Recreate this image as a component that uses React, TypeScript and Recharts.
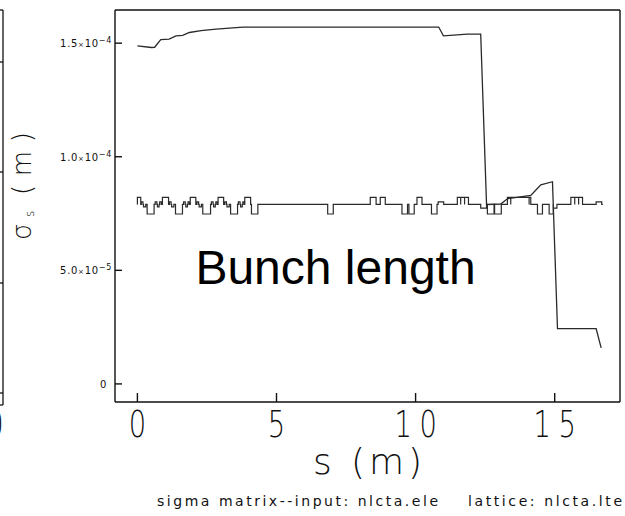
import React from "react";
import { LineChart, Line, XAxis, YAxis } from "recharts";

// sigma_s along the beamline (m)
const sigmaS = [0, 0.5, 0.62, 0.84, 1.14, 1.39, 1.63, 1.87, 2.29, 2.83, 3.31, 3.79, 10.83, 11.0, 11.86, 12.34, 12.55, 13.06, 13.3, 14.14, 14.3, 14.5, 14.92, 15.1, 16.49, 16.67];
const sigmaValue = [1.488e-4, 1.481e-4, 1.482e-4, 1.516e-4, 1.518e-4, 1.532e-4, 1.534e-4, 1.547e-4, 1.555e-4, 1.562e-4, 1.566e-4, 1.571e-4, 1.571e-4, 1.532e-4, 1.54e-4, 1.54e-4, 0.79e-4, 0.792e-4, 0.815e-4, 0.83e-4, 0.85e-4, 0.876e-4, 0.89e-4, 0.243e-4, 0.243e-4, 0.159e-4];

// lattice profile drawn on the plot: element start/end and outline level
const latticeBase = 7.9e-5;
const latticeFirst = 0;
const latticeLast = 16.73;
const latticeStart = [0.0, 0.14, 0.22, 0.35, 0.64, 0.72, 0.8, 0.9, 1.15, 1.23, 1.37, 1.66, 1.74, 1.82, 1.9, 2.14, 2.22, 2.35, 2.66, 2.74, 2.82, 2.9, 3.14, 3.22, 3.35, 3.63, 3.71, 3.79, 3.86, 4.1, 6.84, 8.37, 8.73, 9.51, 9.76, 10.05, 10.57, 10.81, 11.5, 11.62, 11.76, 12.34, 12.58, 12.84, 13.3, 13.42, 14.08, 14.38, 14.8, 14.95, 15.58, 15.72, 15.86, 16.49];
const latticeEnd = [0.12, 0.2, 0.3, 0.6, 0.7, 0.78, 0.86, 1.12, 1.21, 1.31, 1.62, 1.72, 1.8, 1.87, 2.1, 2.2, 2.3, 2.63, 2.72, 2.8, 2.87, 3.1, 3.2, 3.3, 3.6, 3.69, 3.77, 3.84, 4.07, 4.33, 7.04, 8.58, 8.91, 9.71, 9.95, 10.23, 10.77, 11.01, 11.62, 11.76, 11.9, 12.55, 12.82, 13.08, 13.42, 14.08, 14.14, 14.56, 14.95, 15.08, 15.72, 15.86, 16.0, 16.69];
const latticeLevel = [8.21e-5, 8.01e-5, 7.79e-5, 7.48e-5, 8.01e-5, 7.79e-5, 8.01e-5, 8.21e-5, 8.01e-5, 7.79e-5, 7.48e-5, 8.01e-5, 7.79e-5, 8.01e-5, 8.21e-5, 8.01e-5, 7.79e-5, 7.48e-5, 8.01e-5, 7.79e-5, 8.01e-5, 8.21e-5, 8.01e-5, 7.79e-5, 7.48e-5, 8.01e-5, 7.79e-5, 8.01e-5, 8.21e-5, 7.48e-5, 7.48e-5, 8.21e-5, 8.21e-5, 7.48e-5, 7.48e-5, 8.21e-5, 7.48e-5, 8.01e-5, 8.21e-5, 8.21e-5, 8.21e-5, 7.74e-5, 7.48e-5, 7.48e-5, 8.21e-5, 8.21e-5, 8.21e-5, 7.48e-5, 7.48e-5, 7.74e-5, 8.21e-5, 8.21e-5, 8.21e-5, 8.01e-5];

const xTicks = [0, 5, 10, 15];
const yTicks = [0, 5e-5, 1e-4, 1.5e-4];
const yTickMantissa = ["0", "5.0", "1.0", "1.5"];
const yTickExp = ["", "-5", "-4", "-4"];

const xDomain = [-0.805, 17.347];
const yDomain = [-7.96e-6, 1.646e-4];

const sigmaData = sigmaS.map((s, i) => ({ s, v: sigmaValue[i] }));

const latticeData = (() => {
  const pts = [{ s: latticeFirst, v: latticeBase }];
  latticeStart.forEach((s0, i) => {
    pts.push({ s: s0, v: latticeBase });
    pts.push({ s: s0, v: latticeLevel[i] });
    pts.push({ s: latticeEnd[i], v: latticeLevel[i] });
    pts.push({ s: latticeEnd[i], v: latticeBase });
  });
  pts.push({ s: latticeLast, v: latticeBase });
  return pts;
})();

const INK = "#111";
const LINE = "#2a2a2a";
const THIN = "DejaVu Sans";

const XTick = (props: any) => {
  const { x, payload } = props;
  const digits = String(payload.value).split("");
  const offsets = digits.length === 1 ? [0] : [-12.5, 12.5];
  return (
    <g>
      {digits.map((d, i) => (
        <text
          key={i}
          transform={`translate(${x + offsets[i]},437) scale(0.72,1)`}
          textAnchor="middle"
          fontFamily={THIN}
          fontWeight={200}
          fontSize={38}
          fill={INK}
        >
          {d}
        </text>
      ))}
    </g>
  );
};

const YTick = (props: any) => {
  const { y, index } = props;
  const exp = yTickExp[index];
  return (
    <text
      x={exp ? 112 : 107}
      y={y + 4}
      textAnchor="end"
      fontFamily={THIN}
      fontSize={10}
      letterSpacing={0.7}
      fill={INK}
    >
      {yTickMantissa[index]}
      {exp && <tspan fontSize={7}>×</tspan>}
      {exp && "10"}
      {exp && (
        <tspan dy={-4} fontSize={8}>
          {exp.replace("-", "\u2212")}
        </tspan>
      )}
    </text>
  );
};

export default function App() {
  return (
    <div
      style={{
        position: "absolute",
        left: 0,
        top: 0,
        width: 625,
        height: 516,
        background: "#fff",
      }}
    >
      <LineChart
        width={625}
        height={516}
        margin={{ top: 10, right: 5, bottom: 114, left: 115 }}
      >
        <XAxis
          xAxisId={0}
          type="number"
          dataKey="s"
          domain={xDomain}
          ticks={xTicks}
          allowDataOverflow
          height={1}
          mirror
          tickSize={9}
          stroke={INK}
          strokeWidth={1.4}
          tick={<XTick />}
        />
        <XAxis
          xAxisId="top"
          orientation="top"
          type="number"
          dataKey="s"
          domain={xDomain}
          ticks={xTicks}
          allowDataOverflow
          height={1}
          mirror
          tickSize={8}
          stroke={INK}
          strokeWidth={1.4}
          tick={false}
        />
        <YAxis
          yAxisId={0}
          type="number"
          domain={yDomain}
          ticks={yTicks}
          allowDataOverflow
          width={1}
          mirror
          tickSize={7}
          stroke={INK}
          strokeWidth={1.4}
          tick={<YTick />}
        />
        <YAxis
          yAxisId="right"
          orientation="right"
          type="number"
          domain={yDomain}
          ticks={yTicks}
          allowDataOverflow
          width={1}
          mirror
          tickSize={7}
          stroke={INK}
          strokeWidth={1.4}
          tick={false}
        />
        <Line
          data={latticeData}
          dataKey="v"
          type="linear"
          stroke={LINE}
          strokeWidth={1.2}
          dot={false}
          isAnimationActive={false}
        />
        <Line
          data={sigmaData}
          dataKey="v"
          type="linear"
          stroke={LINE}
          strokeWidth={1.3}
          dot={false}
          isAnimationActive={false}
        />
        {/* same curve on the top/right frame axes, invisible, so they render */}
        <Line
          data={sigmaData}
          dataKey="v"
          xAxisId="top"
          yAxisId="right"
          type="linear"
          stroke="none"
          dot={false}
          isAnimationActive={false}
        />
      </LineChart>

      <svg
        width={625}
        height={516}
        style={{ position: "absolute", left: 0, top: 0, pointerEvents: "none" }}
      >
        {/* edge of the neighbouring panel */}
        <g stroke={INK} strokeWidth={1.3}>
          <line x1={3} y1={10} x2={3} y2={405} />
          <line x1={0} y1={10} x2={3} y2={10} />
          <line x1={0} y1={405} x2={3} y2={405} />
          <line x1={0} y1={62} x2={3} y2={62} />
          <line x1={0} y1={172} x2={3} y2={172} />
          <line x1={0} y1={283} x2={3} y2={283} />
          <line x1={0} y1={393} x2={3} y2={393} />
        </g>
        <text
          transform="translate(-5,437) scale(0.72,1)"
          textAnchor="middle"
          fontFamily={THIN}
          fontWeight={200}
          fontSize={38}
          fill={INK}
        >
          0
        </text>

        {/* y-axis title */}
        <g transform="translate(31,240) rotate(-90)" fill={INK} fontFamily={THIN}>
          <text x={0} y={0} fontSize={26} fontWeight={200}>
            σ
          </text>
          <text x={23} y={3} fontSize={12} fontWeight={200}>
            s
          </text>
          <text x={45} y={0} fontSize={26} fontWeight={200} textLength={63} lengthAdjust="spacing">
            (m)
          </text>
        </g>

        {/* x-axis title */}
        <text
          x={313}
          y={474}
          fontFamily={THIN}
          fontWeight={200}
          fontSize={36}
          fill={INK}
          textLength={109}
          lengthAdjust="spacing"
        >
          s (m)
        </text>

        {/* annotation */}
        <text
          x={335.5}
          y={284}
          textAnchor="middle"
          fontFamily="Liberation Sans, Arial, sans-serif"
          fontSize={48}
          fill="#000"
        >
          Bunch length
        </text>

        {/* caption */}
        <text
          x={157}
          y={506}
          fontFamily={THIN}
          fontSize={14}
          fill={INK}
          textLength={281}
          lengthAdjust="spacing"
        >
          sigma matrix--input: nlcta.ele
        </text>
        <text
          x={468}
          y={506}
          fontFamily={THIN}
          fontSize={14}
          fill={INK}
          textLength={154}
          lengthAdjust="spacing"
        >
          lattice: nlcta.lte
        </text>
      </svg>
    </div>
  );
}
